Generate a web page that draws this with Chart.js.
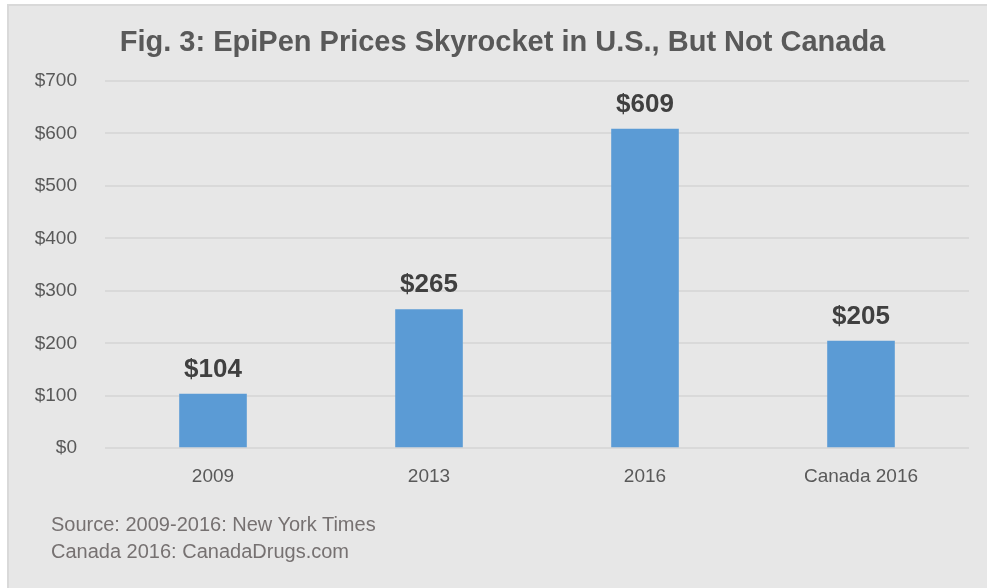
<!DOCTYPE html>
<html>
<head>
  <title>EpiPen Prices</title>
  <script src="https://cdn.jsdelivr.net/npm/chart.js"></script>
  <style>
    body { margin: 0; background: #ffffff; font-family: "Liberation Sans", Arial, sans-serif; }
    #frame { position: absolute; left: 7px; top: 4px; width: 990px; height: 600px;
             background: #e7e7e7; border: 2px solid #d9d9d9; box-sizing: border-box; }
    #wrap { position: absolute; left: 0; top: 0; width: 987px; height: 588px; }
    #title { position: absolute; left: 0; top: 27px; width: 1005px; text-align: center;
             font-size: 29px; line-height: 29px; font-weight: bold; color: #595959; white-space: nowrap; }
    #source { position: absolute; left: 51px; top: 511px; font-size: 20px; line-height: 27px; color: #767171; }
  </style>
</head>
<body>
  <div id="frame"></div>
  <div id="wrap"><canvas id="priceChart" width="987" height="588"></canvas></div>
  <div id="title">Fig. 3: EpiPen Prices Skyrocket in U.S., But Not Canada</div>
  <div id="source">Source: 2009-2016: New York Times<br>Canada 2016: CanadaDrugs.com</div>

  <script>
    const categories = ["2009", "2013", "2016", "Canada 2016"];
    const prices = [104, 265, 609, 205];
    const yTicks = [0, 100, 200, 300, 400, 500, 600, 700];

    const fontFamily = "'Liberation Sans', Arial, sans-serif";

    // draws the bold $ value above each bar
    const valueLabels = {
      id: "valueLabels",
      afterDatasetsDraw(chart) {
        const ctx = chart.ctx;
        const meta = chart.getDatasetMeta(0);
        ctx.save();
        ctx.font = "bold 26px " + fontFamily;
        ctx.fillStyle = "#404040";
        ctx.textAlign = "center";
        ctx.textBaseline = "alphabetic";
        meta.data.forEach((bar, i) => {
          ctx.fillText("$" + prices[i], bar.x, bar.y - 17);
        });
        ctx.restore();
      }
    };

    new Chart(document.getElementById("priceChart").getContext("2d"), {
      type: "bar",
      data: {
        labels: categories,
        datasets: [{
          data: prices,
          backgroundColor: "#5b9bd5",
          categoryPercentage: 1,
          barPercentage: 0.313
        }]
      },
      options: {
        responsive: false,
        animation: false,
        layout: { padding: { left: 35, right: 18, top: 81, bottom: 83 } },
        plugins: {
          legend: { display: false },
          tooltip: { enabled: false },
          title: { display: false }
        },
        scales: {
          x: {
            grid: { display: false, drawTicks: false },
            border: { display: false },
            ticks: { color: "#595959", padding: 17, font: { family: fontFamily, size: 19 } }
          },
          y: {
            min: 0,
            max: 700,
            afterFit: (axis) => { axis.width = 70; },
            afterBuildTicks: (axis) => { axis.ticks = yTicks.map(v => ({ value: v })); },
            grid: { color: "#d9d9d9", lineWidth: 2, drawTicks: false },
            border: { display: false },
            ticks: {
              color: "#595959",
              padding: 28,
              font: { family: fontFamily, size: 19 },
              callback: (v) => "$" + v
            }
          }
        }
      },
      plugins: [valueLabels]
    });
  </script>
</body>
</html>
